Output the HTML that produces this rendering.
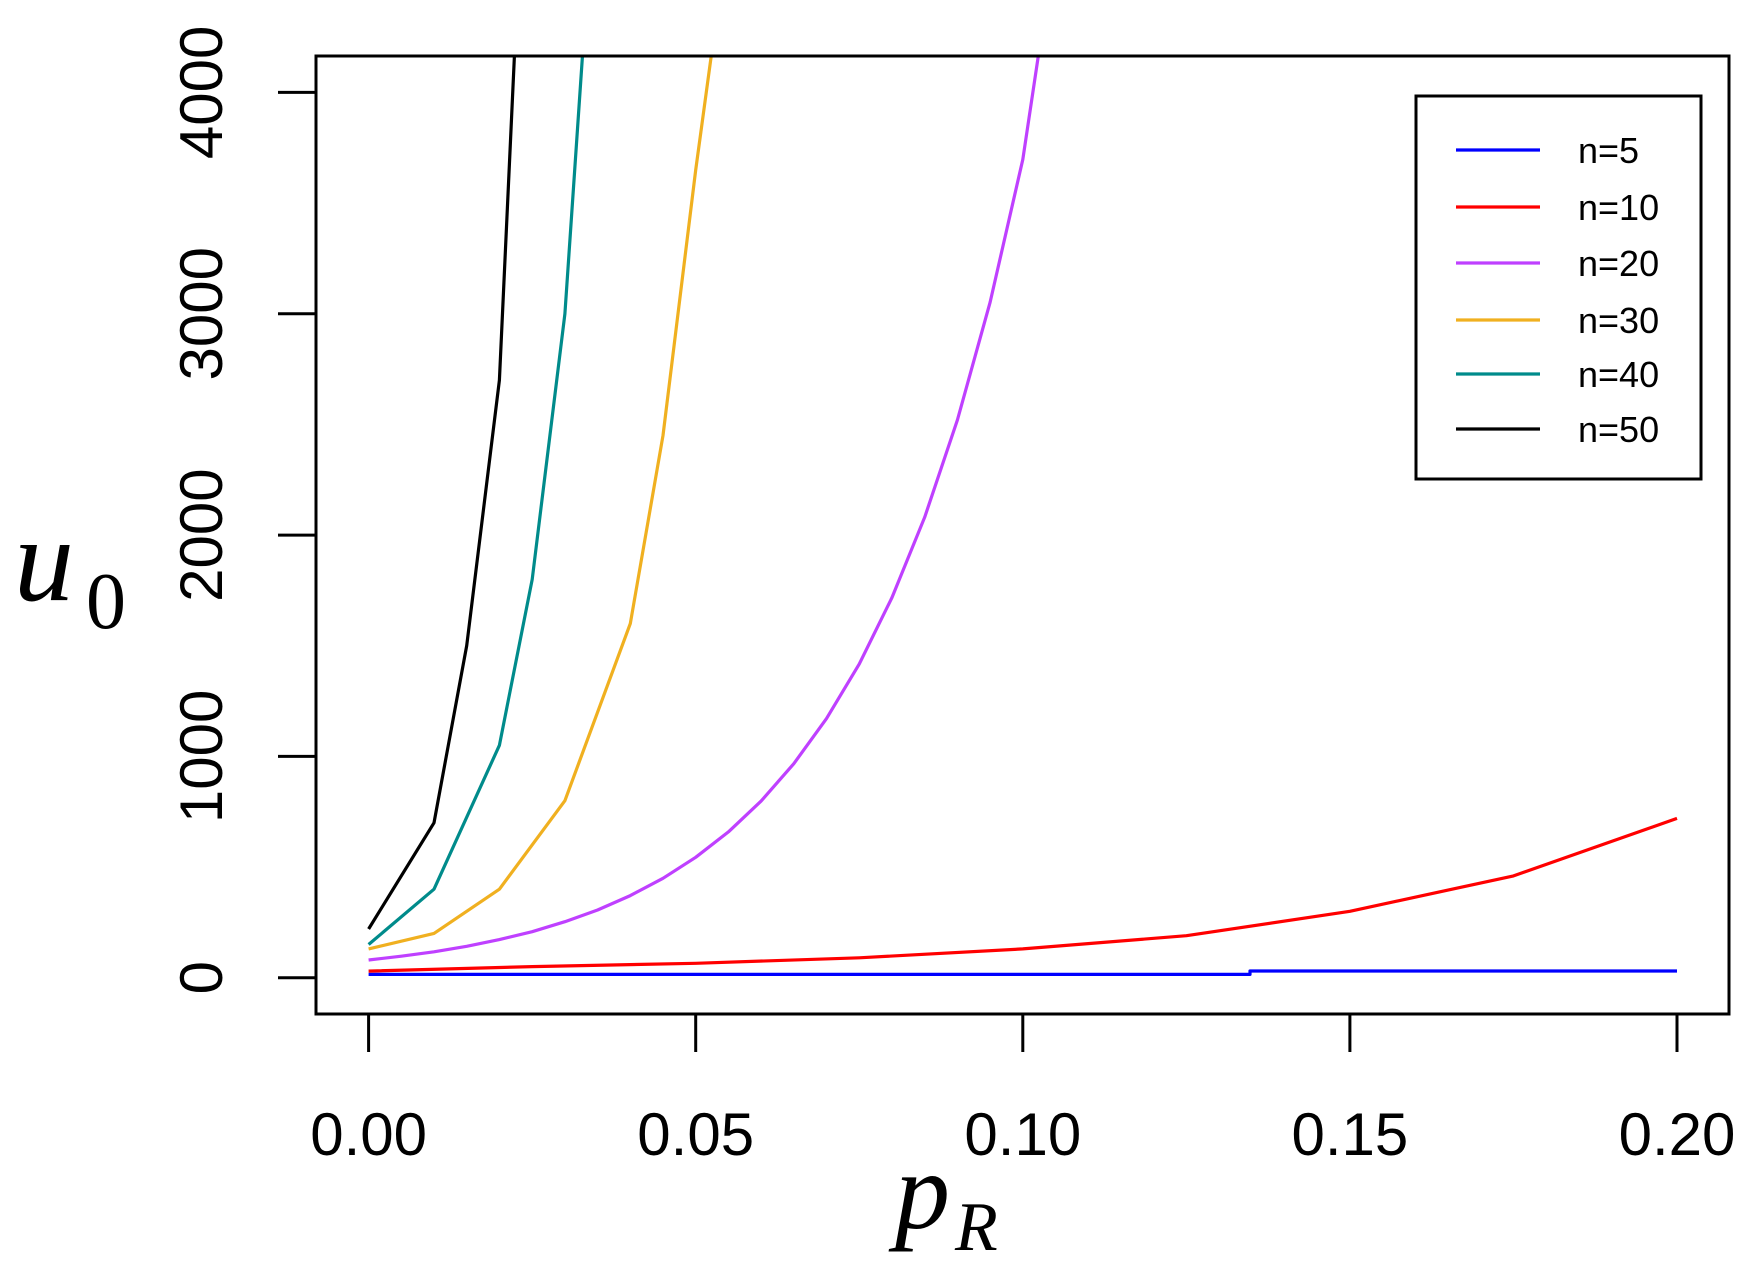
<!DOCTYPE html>
<html><head><meta charset="utf-8"><style>html,body{margin:0;padding:0;background:#fff}</style></head>
<body>
<svg width="1746" height="1264" viewBox="0 0 1746 1264" xmlns="http://www.w3.org/2000/svg">
<defs><clipPath id="c"><rect x="316" y="56" width="1413" height="958"/></clipPath></defs>
<rect width="1746" height="1264" fill="#fff"/>
<g clip-path="url(#c)" fill="none" stroke-width="3.2" stroke-linejoin="round">
<polyline stroke="#0000ff" points="368.6,974.4 1250,974.4 1250,971 1677,971"/>
<polyline stroke="#ff0000" points="368.6,971.1 532.2,966.6 695.7,963.3 859.3,957.8 1022.8,948.9 1186.4,935.7 1349.9,911.3 1513.5,875.9 1677,818.4"/>
<polyline stroke="#bf40ff" points="368.6,960 401.3,956.2 434,951.8 466.7,946.3 499.4,939.6 532.2,931.7 564.9,921.7 597.6,910 630.3,895.6 663,878.3 695.7,857.3 728.4,831.9 761.1,801.1 793.8,763.7 826.5,718.6 859.3,663.9 892,597.5 924.7,517.2 957.4,420 990.1,302.3 1022.8,159.5 1040,44.7"/>
<polyline stroke="#f0b020" points="368.6,948.9 434,933.4 499.4,889.2 564.9,800.7 630.3,623.6 663,435.5 695.7,170 715.3,26.1"/>
<polyline stroke="#008b8b" points="368.6,944.5 434,889.2 499.4,745.3 532.2,579.4 564.9,313.8 584.5,26.1"/>
<polyline stroke="#000" points="368.6,929 434,822.8 466.7,645.7 499.4,380.2 515.8,26.1"/>
</g>
<rect x="316" y="56" width="1413" height="958" fill="none" stroke="#000" stroke-width="3"/>
<g stroke="#000" stroke-width="3">
<line x1="368.6" y1="1014" x2="368.6" y2="1052"/><line x1="695.7" y1="1014" x2="695.7" y2="1052"/><line x1="1022.8" y1="1014" x2="1022.8" y2="1052"/><line x1="1349.9" y1="1014" x2="1349.9" y2="1052"/><line x1="1677" y1="1014" x2="1677" y2="1052"/>
<line x1="278" y1="977.7" x2="316" y2="977.7"/><line x1="278" y1="756.4" x2="316" y2="756.4"/><line x1="278" y1="535.1" x2="316" y2="535.1"/><line x1="278" y1="313.8" x2="316" y2="313.8"/><line x1="278" y1="92.4" x2="316" y2="92.4"/>
</g>
<g font-family="Liberation Sans, sans-serif" font-size="60" text-anchor="middle" fill="#000">
<text x="368.6" y="1155">0.00</text><text x="695.7" y="1155">0.05</text><text x="1022.8" y="1155">0.10</text><text x="1349.9" y="1155">0.15</text><text x="1677" y="1155">0.20</text>
<text transform="translate(222,977.7) rotate(-90)">0</text>
<text transform="translate(222,756.4) rotate(-90)">1000</text>
<text transform="translate(222,535.1) rotate(-90)">2000</text>
<text transform="translate(222,313.8) rotate(-90)">3000</text>
<text transform="translate(222,92.4) rotate(-90)">4000</text>
</g>
<text x="14" y="600" font-family="Liberation Serif, serif" font-style="italic" font-size="120">u</text>
<text x="86" y="628" font-family="Liberation Serif, serif" font-size="80">0</text>
<text x="895" y="1228" font-family="Liberation Serif, serif" font-style="italic" font-size="110">p</text>
<text x="955" y="1250" font-family="Liberation Serif, serif" font-style="italic" font-size="70">R</text>
<rect x="1416" y="96" width="285" height="383" fill="#fff" stroke="#000" stroke-width="3"/>
<g stroke-width="3.2">
<line x1="1456" y1="150" x2="1540" y2="150" stroke="#0000ff"/>
<line x1="1456" y1="207" x2="1540" y2="207" stroke="#ff0000"/>
<line x1="1456" y1="263" x2="1540" y2="263" stroke="#bf40ff"/>
<line x1="1456" y1="320" x2="1540" y2="320" stroke="#f0b020"/>
<line x1="1456" y1="374" x2="1540" y2="374" stroke="#008b8b"/>
<line x1="1456" y1="429" x2="1540" y2="429" stroke="#000"/>
</g>
<g font-family="Liberation Sans, sans-serif" font-size="36" fill="#000">
<text x="1578" y="163">n=5</text><text x="1578" y="220">n=10</text><text x="1578" y="276">n=20</text><text x="1578" y="333">n=30</text><text x="1578" y="387">n=40</text><text x="1578" y="442">n=50</text>
</g>
</svg>
</body></html>
